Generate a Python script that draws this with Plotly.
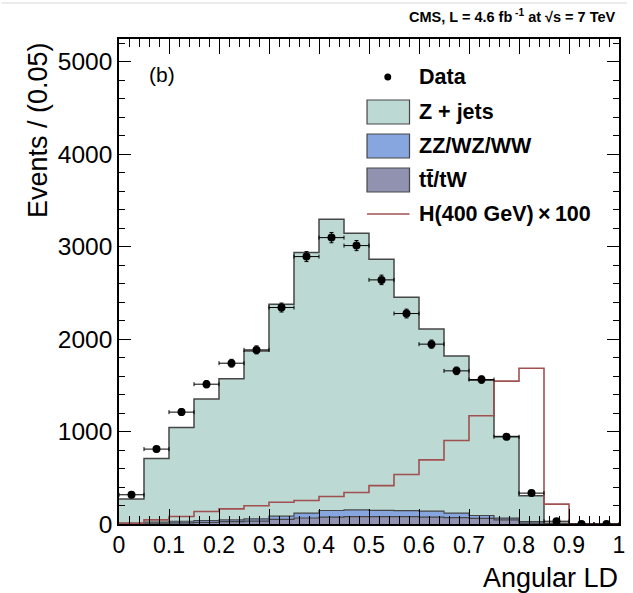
import numpy as np
import plotly.graph_objects as go

# ---- data (20 bins of width 0.05 in Angular LD) ----
bin_edges = [round(0.05 * i, 2) for i in range(21)]
bin_centers = [round(0.025 + 0.05 * i, 3) for i in range(20)]

tt_tw = [5, 8, 12, 18, 25, 32, 50, 65, 75, 80, 80, 80, 75, 70, 60, 45, 10, 2, 0, 0]
zz_wz_ww = [5, 12, 18, 20, 20, 24, 35, 53, 71, 73, 68, 65, 65, 48, 32, 19, 15, 3, 0, 0]
z_jets = [260, 688, 1013, 1315, 1525, 1816, 2292, 2817, 3150, 2992, 2716, 2308, 1970, 1700, 1463, 882, 280, 3, 0, 0]
higgs_x100 = [8, 45, 81, 135, 164, 197, 236, 254, 297, 340, 415, 535, 694, 903, 1170, 1545, 1685, 215, 0, 0]
data = [316, 810, 1210, 1512, 1739, 1883, 2341, 2892, 3097, 3011, 2640, 2276, 1945, 1656, 1562, 943, 334, 30, 0, 0]

y_ticks = [0, 1000, 2000, 3000, 4000, 5000]
x_ticks = [0, 0.1, 0.2, 0.3, 0.4, 0.5, 0.6, 0.7, 0.8, 0.9, 1]

# ---- styles ----
C_Z = "rgb(189,217,211)"
C_ZZ = "rgb(135,165,222)"
C_TT = "rgb(145,146,176)"
C_H = "rgb(160,80,80)"
C_EDGE = "rgb(70,70,70)"
FONT = "Liberation Sans"

W, H = 633, 593
L, R, T, B = 119, 8, 39, 69
PW, PH = W - L - R, H - T - B
XR = W - R  # right frame pixel


def px(xp):
    return (xp - L) / PW


def py(yp):
    return (H - B - yp) / PH


def step(vals):
    return list(vals) + [vals[-1]]


cum1 = np.array(tt_tw, dtype=float)
cum2 = cum1 + np.array(zz_wz_ww)
cum3 = cum2 + np.array(z_jets)

fig = go.Figure()
fig.add_trace(go.Scatter(x=bin_edges, y=step(cum1), mode="lines", line=dict(shape="hv", color=C_EDGE, width=1.2),
                         fill="tozeroy", fillcolor=C_TT, name="tt/tW", showlegend=False))
fig.add_trace(go.Scatter(x=bin_edges, y=step(cum2), mode="lines", line=dict(shape="hv", color=C_EDGE, width=1.2),
                         fill="tonexty", fillcolor=C_ZZ, name="ZZ/WZ/WW", showlegend=False))
fig.add_trace(go.Scatter(x=bin_edges, y=step(cum3), mode="lines", line=dict(shape="hv", color=C_EDGE, width=1.5),
                         fill="tonexty", fillcolor=C_Z, name="Z + jets", showlegend=False))
fig.add_trace(go.Scatter(x=bin_edges, y=step(higgs_x100), mode="lines",
                         line=dict(shape="hv", color=C_H, width=1.6), name="H", showlegend=False))
fig.add_trace(go.Scatter(x=bin_centers, y=data, mode="markers",
                         marker=dict(color="black", size=8),
                         error_y=dict(type="data", array=list(np.sqrt(data)), color="black", thickness=1, width=2),
                         error_x=dict(type="constant", value=0.025, color="black", thickness=1, width=2),
                         name="Data", showlegend=False))

axis_common = dict(showline=True, linecolor="black", linewidth=1.5, mirror="ticks", ticks="inside",
                   tickcolor="black", tickwidth=1, showgrid=False, zeroline=False)

fig.update_xaxes(range=[0, 1], tickvals=x_ticks, ticktext=[str(v) for v in x_ticks], ticklen=15,
                 tickfont=dict(family=FONT, size=23, color="black"), ticklabeloverflow="allow",
                 minor=dict(dtick=0.02, tick0=0, ticklen=8, ticks="inside", tickcolor="black", showgrid=False),
                 **axis_common)
fig.update_yaxes(range=[0, 5245], tickvals=y_ticks, ticklen=12,
                 tickfont=dict(family=FONT, size=24.5, color="black"),
                 minor=dict(dtick=200, tick0=0, ticklen=6, ticks="inside", tickcolor="black", showgrid=False),
                 **axis_common)

shapes = []
annotations = []
# legend (drawn manually)
lx0, lx1, tx = 370, 413, 421
shapes.append(dict(type="circle", xref="paper", yref="paper", x0=px(387.5), x1=px(394.5), y0=py(80.5), y1=py(73.5),
                   fillcolor="black", line=dict(color="black", width=0)))
for yc, col in [(112, C_Z), (146, C_ZZ), (180, C_TT)]:
    shapes.append(dict(type="rect", xref="paper", yref="paper", x0=px(lx0), x1=px(lx1), y0=py(yc + 12), y1=py(yc - 12),
                       fillcolor=col, line=dict(color=C_EDGE, width=1.2)))
shapes.append(dict(type="line", xref="paper", yref="paper", x0=px(lx0), x1=px(lx1), y0=py(214), y1=py(214),
                   line=dict(color=C_H, width=1.6)))
for yc, txt in [(77, "Data"), (112, "Z + jets"), (146, "ZZ/WZ/WW"), (180, "tt\u0304/tW"),
                (214, "H(400 GeV)\u2009\u00d7\u2009100")]:
    annotations.append(dict(text=f"<b>{txt}</b>", xref="paper", yref="paper", x=px(tx), y=py(yc),
                            xanchor="left", yanchor="middle", showarrow=False,
                            font=dict(family=FONT, size=21.5, color="black")))

# top decorative line
shapes.append(dict(type="line", xref="paper", yref="paper", x0=px(0), x1=px(W), y0=py(3), y1=py(3),
                   line=dict(color="rgb(215,215,215)", width=1)))

annotations.append(dict(text="<b>CMS, L = 4.6 fb<sup> -1</sup> at \u221as = 7 TeV</b>", xref="paper", yref="paper",
                        x=px(XR - 1), y=py(16), xanchor="right", yanchor="middle", showarrow=False,
                        font=dict(family=FONT, size=14.5, color="black")))
annotations.append(dict(text="(b)", xref="paper", yref="paper", x=px(147), y=py(75), xanchor="left",
                        yanchor="middle", showarrow=False, font=dict(family=FONT, size=21, color="black")))
annotations.append(dict(text="Events / (0.05)", xref="paper", yref="paper", x=px(37), y=py(40), xanchor="center",
                        yanchor="top", textangle=-90, showarrow=False,
                        font=dict(family=FONT, size=27, color="black")))
annotations.append(dict(text="Angular LD", xref="paper", yref="paper", x=px(XR + 1), y=py(578), xanchor="right",
                        yanchor="middle", showarrow=False, font=dict(family=FONT, size=27, color="black")))

fig.update_layout(width=W, height=H, margin=dict(l=L, r=R, t=T, b=B), plot_bgcolor="white",
                  paper_bgcolor="white", shapes=shapes, annotations=annotations, showlegend=False,
                  font=dict(family=FONT, color="black"))

fig.write_html("out.html")
